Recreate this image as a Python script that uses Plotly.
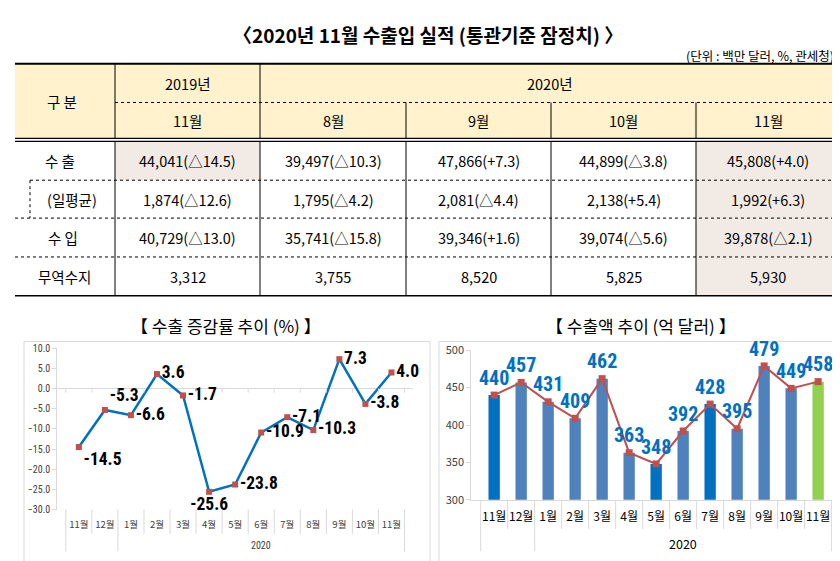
import plotly.graph_objects as go

W, H = 840, 561


def px(x):
    return x / W


def py(y):
    return 1 - y / H


# ---------------- table data ----------------
main_title = "〈2020년 11월 수출입 실적 (통관기준 잠정치) 〉"
unit_note = "(단위 : 백만 달러, %, 관세청)"
head_label = "구 분"
years = ["2019년", "2020년"]
table_months = ["11월", "8월", "9월", "10월", "11월"]
row_labels = ["수 출", "(일평균)", "수 입", "무역수지"]
export_amt = [44041, 39497, 47866, 44899, 45808]
export_chg = [-14.5, -10.3, 7.3, -3.8, 4.0]
daily_amt = [1874, 1795, 2081, 2138, 1992]
daily_chg = [-12.6, -4.2, -4.4, 5.4, 6.3]
import_amt = [40729, 35741, 39346, 39074, 39878]
import_chg = [-13.0, -15.8, 1.6, -5.6, -2.1]
trade_balance = [3312, 3755, 8520, 5825, 5930]

# ---------------- chart data ----------------
left_title = "【 수출 증감률 추이 (%) 】"
right_title = "【 수출액 추이 (억 달러) 】"
chart_years = ["2019", "2019"] + ["2020"] * 11
chart_months = ["11월", "12월", "1월", "2월", "3월", "4월", "5월", "6월",
                "7월", "8월", "9월", "10월", "11월"]
export_growth = [-14.5, -5.3, -6.6, 3.6, -1.7, -25.6, -23.8, -10.9, -7.1,
                 -10.3, 7.3, -3.8, 4.0]
export_value = [440, 457, 431, 409, 462, 363, 348, 392, 428, 395, 479, 449, 458]

# ---------------- styles ----------------
KR = "Noto Sans CJK KR"
NARROW = "Liberation Sans Narrow, Roboto Condensed, Arial Narrow, Liberation Sans"
GRAY = "#D9D9D9"
DARK_BLUE = "#0070C0"
STEEL = "#4F81BD"
GREEN = "#92D050"
RED = "#C0504D"
HEAD_BG = "#FFF2CC"
HI_BG = "#F2EBE5"

growth_textpos = ["bottom right", "top right", "middle right", "middle right",
                  "middle right", "bottom center", "middle right", "middle right",
                  "middle right", "middle right", "middle right", "middle right",
                  "middle right"]
bar_colors = [DARK_BLUE, STEEL, STEEL, STEEL, STEEL, STEEL, DARK_BLUE, STEEL,
              DARK_BLUE, STEEL, STEEL, STEEL, GREEN]

keys = [f"{y}-{m}" for y, m in zip(chart_years, chart_months)]

fig = go.Figure()

# left chart: growth line
fig.add_trace(go.Scatter(
    x=keys, y=export_growth, mode="lines+markers+text",
    line=dict(color=DARK_BLUE, width=2.5),
    marker=dict(symbol="square", size=6, color=RED),
    text=[f"{v:.1f}" for v in export_growth],
    textposition=growth_textpos,
    textfont=dict(family=NARROW, size=17.5, color="#000000", weight="bold"),
    cliponaxis=False, showlegend=False, xaxis="x", yaxis="y",
))

# right chart: bars + line
fig.add_trace(go.Bar(
    x=keys, y=export_value, marker=dict(color=bar_colors, line=dict(width=0)),
    width=0.42, showlegend=False, xaxis="x2", yaxis="y2",
))
fig.add_trace(go.Scatter(
    x=keys, y=export_value, mode="lines+markers+text",
    line=dict(color=RED, width=2),
    marker=dict(symbol="square", size=7, color=RED),
    text=[str(v) for v in export_value], textposition="top center",
    textfont=dict(family=NARROW, size=20, color=DARK_BLUE, weight="bold"),
    cliponaxis=False, showlegend=False, xaxis="x2", yaxis="y2",
))

# ---------------- layout ----------------
L_X0, L_X1, L_Y0, L_Y1 = 49.3, 405, 341, 507
R_X0, R_X1, R_Y0, R_Y1 = 463.3, 833, 343, 497

fig.update_layout(
    width=W, height=H, margin=dict(l=0, r=0, t=0, b=0),
    paper_bgcolor="white", plot_bgcolor="rgba(0,0,0,0)",
    font=dict(family=KR, color="#000000"),
    bargap=0.5,
    xaxis=dict(domain=[px(L_X0), px(L_X1)], anchor="y", type="category",
               tickmode="array", tickvals=keys, ticktext=chart_months,
               tickangle=0,
               showline=False, showgrid=False, zeroline=False, ticks="",
               tickfont=dict(family=KR, size=9.5, color="#404040"),
               ticklabelstandoff=8, fixedrange=True),
    yaxis=dict(domain=[py(L_Y1), py(L_Y0)], anchor="x", range=[-30, 10],
               dtick=5, tickformat=".1f", showgrid=False,
               zeroline=True, zerolinecolor=GRAY, zerolinewidth=1,
               showline=True, linecolor=GRAY, linewidth=1,
               ticks="outside", ticklen=4, tickcolor=GRAY,
               tickfont=dict(family=NARROW, size=10, color="#404040")),
    xaxis2=dict(domain=[px(R_X0), px(R_X1)], anchor="y2", type="category",
                tickmode="array", tickvals=keys, ticktext=chart_months,
                tickangle=0,
                showline=True, linecolor=GRAY, linewidth=1,
                showgrid=False, zeroline=False, ticks="",
                tickfont=dict(family=KR, size=12, color="#000000"),
                ticklabelstandoff=6),
    yaxis2=dict(domain=[py(R_Y1), py(R_Y0)], anchor="x2", range=[300, 500],
                dtick=50, showgrid=False, zeroline=False,
                showline=True, linecolor=GRAY, linewidth=1,
                ticks="outside", ticklen=4, tickcolor=GRAY,
                tickfont=dict(family=KR, size=11, color="#404040")),
)

shapes = []
annots = []


def pline(x0, y0, x1, y1, color="#000000", width=1, dash="solid"):
    shapes.append(dict(type="line", xref="paper", yref="paper",
                       x0=px(x0), y0=py(y0), x1=px(x1), y1=py(y1),
                       line=dict(color=color, width=width, dash=dash)))


def prect(x0, y0, x1, y1, fill):
    shapes.append(dict(type="rect", xref="paper", yref="paper", layer="below",
                       x0=px(x0), y0=py(y0), x1=px(x1), y1=py(y1),
                       fillcolor=fill, line=dict(width=0)))


def ptext(x, y, s, size=14, xanchor="center", family=KR, color="#000000", weight="normal"):
    annots.append(dict(xref="paper", yref="paper", x=px(x), y=py(y), text=s,
                       showarrow=False, xanchor=xanchor, yanchor="middle",
                       font=dict(family=family, size=size, color=color, weight=weight)))


# ---------------- table ----------------
TX0, TX1 = 7, 832
col_edges = [7, 107, 252, 398, 543, 688, 832]
row_edges = [128, 168, 207, 247, 287]
HY0, HY_MID, HY1 = 48, 88, 125

prect(TX0, HY0, TX1, HY1, HEAD_BG)
prect(col_edges[1], row_edges[0], col_edges[2], row_edges[1], HI_BG)
prect(col_edges[5], row_edges[0], col_edges[6], row_edges[-1], HI_BG)

pline(TX0, HY0, TX1, HY0, width=2)
pline(col_edges[1], HY_MID, TX1, HY_MID, dash="dot")
pline(TX0, HY1, TX1, HY1, width=1.2)
pline(TX0, row_edges[0], TX1, row_edges[0], width=1.2)
pline(22, row_edges[1], TX1, row_edges[1], dash="dot")
pline(TX0, row_edges[2], TX1, row_edges[2], dash="dot")
pline(TX0, row_edges[3], TX1, row_edges[3], dash="dot")
pline(TX0, row_edges[4], TX1, row_edges[4], width=1.5)
pline(22, row_edges[1], 22, row_edges[2], dash="dot")
for i, xe in enumerate(col_edges[1:-1], start=1):
    top = HY0 if i <= 2 else HY_MID
    pline(xe, top, xe, HY1, width=1)
    pline(xe, row_edges[0], xe, row_edges[-1], width=1)

ptext(420, 18, main_title, size=19, weight="bold")
ptext(828, 40, unit_note, size=12.5, xanchor="right")

ptext((col_edges[0] + col_edges[1]) / 2 - 3, (HY0 + HY1) / 2, head_label, size=14.5)
ptext((col_edges[1] + col_edges[2]) / 2, (HY0 + HY_MID) / 2, years[0], size=14.5)
ptext((col_edges[2] + col_edges[6]) / 2, (HY0 + HY_MID) / 2, years[1], size=14.5)
for j, m in enumerate(table_months):
    ptext((col_edges[j + 1] + col_edges[j + 2]) / 2, (HY_MID + HY1) / 2, m, size=14.5)


def fmt(v, c):
    sign = "△" if c < 0 else "+"
    return f"{v:,}({sign}{abs(c):.1f})"


rows = [
    [fmt(v, c) for v, c in zip(export_amt, export_chg)],
    [fmt(v, c) for v, c in zip(daily_amt, daily_chg)],
    [fmt(v, c) for v, c in zip(import_amt, import_chg)],
    [f"{v:,}" for v in trade_balance],
]
label_x = [52, 64, 55, 56]
for r, (lab, vals) in enumerate(zip(row_labels, rows)):
    yc = (row_edges[r] + row_edges[r + 1]) / 2
    ptext(label_x[r], yc, lab, size=14.5)
    for j, s in enumerate(vals):
        ptext((col_edges[j + 1] + col_edges[j + 2]) / 2, yc, s, size=14.5)

# ---------------- chart frames & titles ----------------
shapes.append(dict(type="rect", xref="paper", yref="paper",
                   x0=px(16), x1=px(422), y0=py(575), y1=py(334),
                   line=dict(color=GRAY, width=1), layer="below"))
shapes.append(dict(type="rect", xref="paper", yref="paper",
                   x0=px(431), x1=px(833), y0=py(575), y1=py(334),
                   line=dict(color=GRAY, width=1), layer="below"))
ptext(218, 318, left_title, size=17)
ptext(633, 318, right_title, size=17)

# category separators under the axes
n = len(keys)
group_breaks = {-0.5, n - 0.5}
for i in range(1, n):
    if chart_years[i] != chart_years[i - 1]:
        group_breaks.add(i - 0.5)
for ax, ytop, yshort, ylong in (("x", L_Y1, 532, 550), ("x2", R_Y1, 527, 550)):
    for i in range(n + 1):
        b = i - 0.5
        yb = ylong if b in group_breaks else yshort
        shapes.append(dict(type="line", xref=ax, yref="paper", x0=b, x1=b,
                           y0=py(ytop), y1=py(yb), line=dict(color=GRAY, width=1)))
# tick marks on zero line of left chart
for i in range(n + 1):
    shapes.append(dict(type="line", xref="x", yref="y", x0=i - 0.5, x1=i - 0.5,
                       y0=0, y1=-1, line=dict(color=GRAY, width=1)))

# group label (year)
grp = [i for i, y in enumerate(chart_years) if y == "2020"]
mid = (grp[0] + grp[-1]) / 2
annots.append(dict(xref="x", yref="paper", x=mid, y=py(544), text="2020",
                   showarrow=False, yanchor="middle",
                   font=dict(family=NARROW, size=10, color="#404040")))
annots.append(dict(xref="x2", yref="paper", x=mid, y=py(542), text="2020",
                   showarrow=False, yanchor="middle",
                   font=dict(family=KR, size=12.5, color="#000000")))

fig.update_layout(shapes=shapes, annotations=annots)
fig.write_html("out.html")
